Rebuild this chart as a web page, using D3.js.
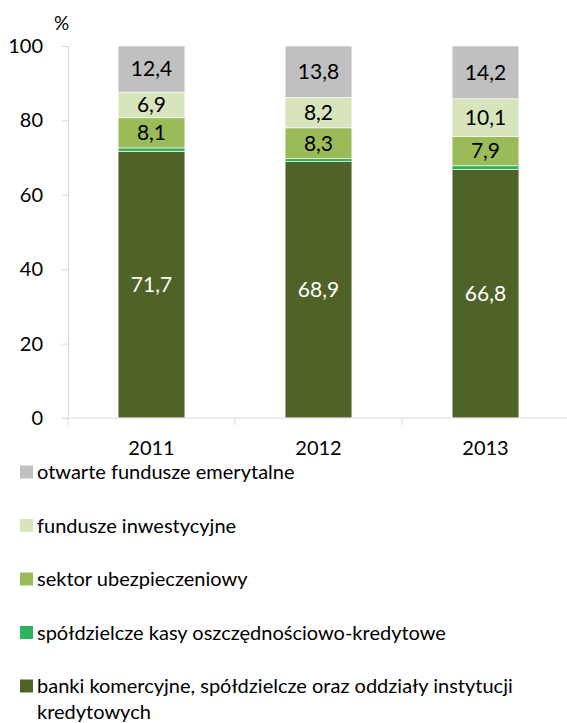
<!DOCTYPE html>
<html><head><meta charset="utf-8">
<script src="https://cdn.jsdelivr.net/npm/d3@7"></script>
<style>body{margin:0;background:#fff}svg{display:block}</style>
</head><body>
<svg id="c" width="567" height="723"></svg>
<script>
const years = ["2011", "2012", "2013"];
const seriesNames = [
  "banki komercyjne, spółdzielcze oraz oddziały instytucji kredytowych",
  "spółdzielcze kasy oszczędnościowo-kredytowe",
  "sektor ubezpieczeniowy",
  "fundusze inwestycyjne",
  "otwarte fundusze emerytalne"
];
const banki = [71.7, 68.9, 66.8];
const skok = [0.9, 0.8, 1.0];
const ubezp = [8.1, 8.3, 7.9];
const inwest = [6.9, 8.2, 10.1];
const ofe = [12.4, 13.8, 14.2];
const yTicks = [0, 20, 40, 60, 80, 100];
const colors = ["#4F6228", "#2DB35C", "#9BBB59", "#D8E4BC", "#C0C0C2"];
const labelColors = ["#ffffff", null, "#000000", "#000000", "#000000"];

const seriesValues = [banki, skok, ubezp, inwest, ofe];
const rows = years.map((y, i) => {
  const r = { year: y };
  seriesNames.forEach((s, k) => r[s] = seriesValues[k][i]);
  return r;
});
const stack = d3.stack().keys(seriesNames)(rows);

const svg = d3.select("#c");
const font = "Lato, 'Open Sans', sans-serif";
const x = d3.scaleBand().domain(years).range([68, 569]).paddingInner(0.6).paddingOuter(0.3);
const y = d3.scaleLinear().domain([0, 100]).range([418, 46]);

// axes
const yAxis = svg.append("g").attr("transform", "translate(68,0)")
  .call(d3.axisLeft(y).tickValues(yTicks).tickSize(6).tickPadding(19));
yAxis.select(".domain").attr("stroke", "#D9D9D9");
yAxis.selectAll(".tick line").attr("stroke", "#D9D9D9");
yAxis.selectAll("text").attr("font-family", font).attr("font-size", 20).attr("fill", "#000");

// bars
svg.append("g").selectAll("g").data(stack).join("g")
  .attr("fill", (d, i) => colors[i])
  .selectAll("rect").data(d => d).join("rect")
  .attr("x", d => x(d.data.year))
  .attr("width", x.bandwidth())
  .attr("y", d => y(d[1]))
  .attr("height", d => y(d[0]) - y(d[1]))
  .attr("stroke", "#fff").attr("stroke-width", 0.6);

// value labels
stack.forEach((s, i) => {
  if (!labelColors[i]) return;
  svg.append("g").selectAll("text").data(s).join("text")
    .attr("x", d => x(d.data.year) + x.bandwidth() / 2)
    .attr("y", d => y((d[0] + d[1]) / 2))
    .attr("dy", "0.35em")
    .attr("text-anchor", "middle")
    .attr("font-family", font).attr("font-size", 21)
    .attr("fill", labelColors[i])
    .text(d => d.data[s.key].toFixed(1).replace(".", ","));
});

// x axis
const xAxisG = svg.append("g").attr("transform", "translate(0,418)");
xAxisG.append("line").attr("x1", 68).attr("x2", 569).attr("stroke", "#D9D9D9");
const bounds = [0, 1, 2, 3].map(i => x.range()[0] + i * x.step());
xAxisG.selectAll("line.t").data(bounds).join("line").attr("class", "t")
  .attr("x1", d => d).attr("x2", d => d).attr("y1", 0).attr("y2", 7).attr("stroke", "#D9D9D9");
xAxisG.selectAll("text").data(years).join("text")
  .attr("x", d => x(d) + x.bandwidth() / 2).attr("y", 37)
  .attr("text-anchor", "middle").attr("font-family", font).attr("font-size", 20).text(d => d);

svg.append("text").attr("x", 54).attr("y", 30).attr("font-family", font).attr("font-size", 19).text("%");

// legend
const legendOrder = [4, 3, 2, 1, 0];
const lg = svg.append("g");
legendOrder.forEach((k, j) => {
  const cy = 472 + j * 53.5;
  lg.append("rect").attr("x", 20).attr("y", cy - 6.5).attr("width", 13).attr("height", 13).attr("fill", colors[k]);
  const t = lg.append("text").attr("x", 37).attr("y", cy).attr("dy", "0.35em")
    .attr("font-family", font).attr("font-size", 20).attr("fill", "#000");
  if (k === 0) {
    t.append("tspan").attr("x", 37).text("banki komercyjne, spółdzielcze oraz oddziały instytucji");
    t.append("tspan").attr("x", 37).attr("dy", 26).text("kredytowych");
  } else {
    t.text(seriesNames[k]);
  }
});
</script>
</body></html>
